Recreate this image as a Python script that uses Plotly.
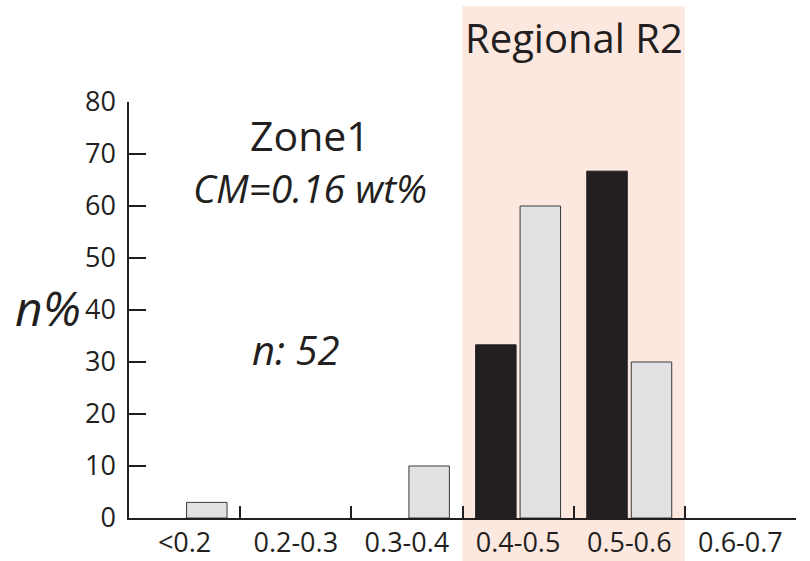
import plotly.graph_objects as go

categories = ['<0.2', '0.2-0.3', '0.3-0.4', '0.4-0.5', '0.5-0.6', '0.6-0.7']
black_values = [0, 0, 0, 33.3, 66.7, 0]
gray_values = [3, 0, 10, 60, 30, 0]
y_ticks = [0, 10, 20, 30, 40, 50, 60, 70, 80]
region_categories = ['0.4-0.5', '0.5-0.6']

FONT = "Open Sans"
TXT = "#231F20"


def hide_zero(vals):
    return [v if v else None for v in vals]


fig = go.Figure()
fig.add_trace(go.Bar(x=categories, y=hide_zero(black_values), name="black",
                     marker=dict(color="#231F20", line=dict(color="#231F20", width=1))))
fig.add_trace(go.Bar(x=categories, y=hide_zero(gray_values), name="gray",
                     marker=dict(color="#E1E2E4", line=dict(color="#3a3a3a", width=1))))

# shaded "Regional R2" band spanning 0.4-0.5 and 0.5-0.6 (paper coords from category index)
n_cat = len(categories)
i0 = categories.index(region_categories[0])
i1 = categories.index(region_categories[-1]) + 1
fig.add_shape(type="rect", xref="paper", yref="paper", x0=i0 / n_cat, x1=i1 / n_cat,
              y0=-0.11, y1=1.23, fillcolor="#FDE8E0", line=dict(width=0), layer="below")

ann = dict(showarrow=False, xanchor="center", yanchor="middle")
fig.add_annotation(text="Regional R2", xref="paper", yref="paper", x=(i0 + i1) / 2 / n_cat,
                   y=1.155, font=dict(family=FONT, size=40, color=TXT), **ann)
fig.add_annotation(text="Zone1", xref="paper", yref="paper", x=0.272, y=0.921,
                   font=dict(family=FONT, size=41, color=TXT), **ann)
fig.add_annotation(text="<i>CM=0.16 wt%</i>", xref="paper", yref="paper", x=0.272, y=0.794,
                   font=dict(family=FONT, size=39, color=TXT), **ann)
fig.add_annotation(text="<i>n: 52</i>", xref="paper", yref="paper", x=0.25, y=0.405,
                   font=dict(family=FONT, size=40, color=TXT), **ann)
fig.add_annotation(text="<i>n%</i>", xref="paper", yref="paper", x=-0.121, y=0.507,
                   font=dict(family=FONT, size=48, color=TXT), **ann)

fig.update_layout(
    width=810, height=561,
    margin=dict(l=129, r=14, t=102, b=43),
    paper_bgcolor="white", plot_bgcolor="rgba(0,0,0,0)",
    barmode="group", bargap=0.2, bargroupgap=0.09,
    showlegend=False,
    font=dict(family=FONT, color=TXT),
)
fig.update_xaxes(
    type="category", showline=True, linecolor="#231F20", linewidth=1.5,
    ticks="inside", tickson="boundaries", ticklen=12, tickwidth=1.5, tickcolor="#231F20",
    tickfont=dict(family=FONT, size=27, color=TXT), showgrid=False, zeroline=False,
    range=[-0.5, 5.5], automargin=False, ticklabelstandoff=0,
)
fig.update_yaxes(
    range=[0, 80], tickvals=y_ticks, showline=True, linecolor="#231F20", linewidth=1.5,
    ticks="inside", ticklen=17, tickwidth=1.5, tickcolor="#231F20",
    tickfont=dict(family=FONT, size=27, color=TXT), showgrid=False, zeroline=False,
    ticklabelstandoff=6, automargin=False,
)

fig.write_html("out.html", config={"displayModeBar": False},
               post_script="document.body.style.margin='0px';document.body.style.overflow='hidden';")
